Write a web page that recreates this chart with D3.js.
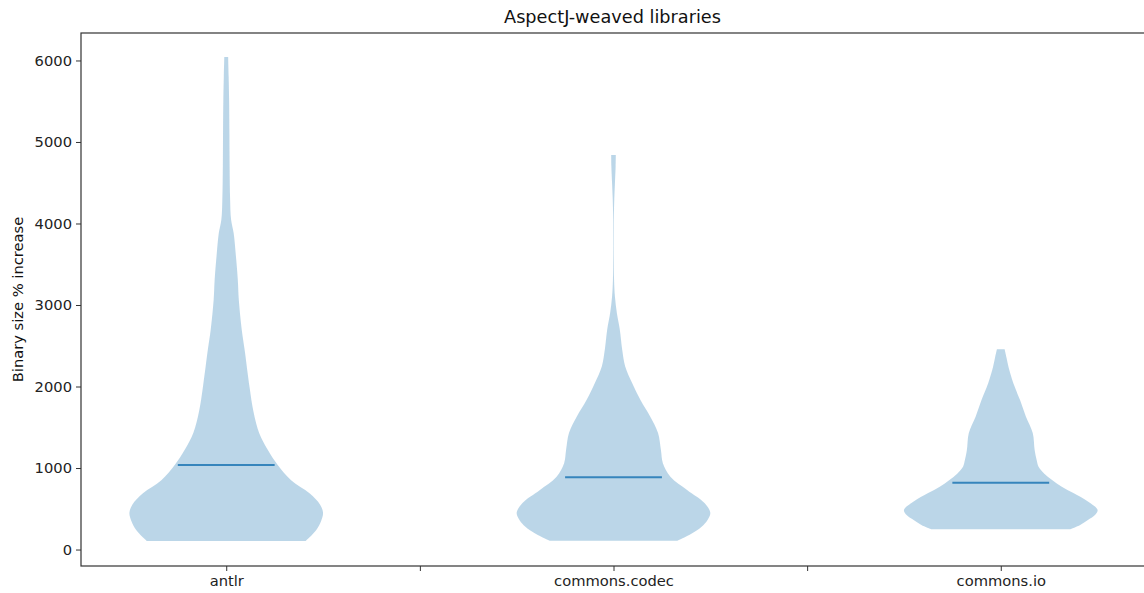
<!DOCTYPE html>
<html>
<head>
<meta charset="utf-8">
<script src="https://cdn.jsdelivr.net/npm/d3@7"></script>
<style>
  html, body { margin: 0; padding: 0; background: #fff; }
  svg { display: block; font-family: "DejaVu Sans", sans-serif; }
</style>
</head>
<body>
<svg id="chart" width="1144" height="593"></svg>
<script>
// ---- Data ----
const categories = ["antlr", "commons.codec", "commons.io"];
const positions = [1, 2, 3];
const meanValues = [1037, 886, 820];

// Violin outlines: value along y, relative half-width (1 = widest)
const antlrValues = [6043, 5800, 5500, 5100, 4700, 4300, 4050, 3880, 3600, 3300, 3060, 2700, 2450, 2000, 1700, 1430, 1220, 1040, 850, 690, 550, 450, 350, 240, 104];
const antlrWidths = [0.02, 0.025, 0.03, 0.033, 0.035, 0.04, 0.05, 0.077, 0.10, 0.12, 0.13, 0.16, 0.19, 0.24, 0.28, 0.34, 0.43, 0.53, 0.67, 0.86, 0.97, 1.0, 0.98, 0.93, 0.82];

const codecValues = [4840, 4700, 4500, 4300, 4100, 3900, 3600, 3300, 3100, 2900, 2700, 2450, 2250, 2050, 1830, 1630, 1430, 1220, 1060, 890, 730, 570, 450, 360, 280, 190, 108];
const codecWidths = [0.024, 0.022, 0.015, 0.008, 0.004, 0.003, 0.003, 0.006, 0.015, 0.035, 0.065, 0.09, 0.12, 0.19, 0.28, 0.38, 0.46, 0.49, 0.51, 0.59, 0.76, 0.94, 1.0, 0.97, 0.91, 0.8, 0.66];

const ioValues = [2456, 2350, 2240, 2040, 1830, 1630, 1430, 1220, 1100, 1016, 930, 853, 770, 693, 590, 485, 420, 362, 300, 248];
const ioWidths = [0.04, 0.06, 0.08, 0.13, 0.2, 0.26, 0.33, 0.35, 0.37, 0.39, 0.45, 0.53, 0.63, 0.75, 0.9, 1.0, 0.97, 0.9, 0.82, 0.72];

const yTicks = [0, 1000, 2000, 3000, 4000, 5000, 6000];
const xTicks = [1, 1.5, 2, 2.5, 3];
const titleText = "AspectJ-weaved libraries";
const yLabelText = "Binary size % increase";

// ---- Layout ----
const svg = d3.select("#chart");
const plotLeft = 81, plotRight = 1146, plotTop = 33, plotBottom = 566;
const violinHalf = 0.25; // half of violin width in data units
const meanHalf = 0.125;

const x = d3.scaleLinear().domain([0.625, 3.375]).range([plotLeft, plotRight]);
const y = d3.scaleLinear().domain([-202, 6337]).range([plotBottom, plotTop]);
const wScale = d3.scaleLinear().domain([0, 1]).range([0, violinHalf]);

const fillColor = "#1f77b4";

const violins = [
  { pos: positions[0], values: antlrValues, widths: antlrWidths, mean: meanValues[0] },
  { pos: positions[1], values: codecValues, widths: codecWidths, mean: meanValues[1] },
  { pos: positions[2], values: ioValues, widths: ioWidths, mean: meanValues[2] }
];

svg.append("defs").append("clipPath").attr("id", "plotclip")
  .append("rect").attr("x", plotLeft).attr("y", plotTop)
  .attr("width", plotRight - plotLeft).attr("height", plotBottom - plotTop);

const plot = svg.append("g").attr("clip-path", "url(#plotclip)");

violins.forEach(v => {
  const pts = v.values.map((val, i) => ({ v: val, w: v.widths[i] }));
  const area = d3.area()
    .y(d => y(d.v))
    .x0(d => x(v.pos - wScale(d.w)))
    .x1(d => x(v.pos + wScale(d.w)))
    .curve(d3.curveCatmullRom.alpha(0.5));
  plot.append("path")
    .datum(pts)
    .attr("d", area)
    .attr("fill", fillColor)
    .attr("fill-opacity", 0.3)
    .attr("stroke", "none");
});

violins.forEach(v => {
  plot.append("line")
    .attr("x1", x(v.pos - meanHalf))
    .attr("x2", x(v.pos + meanHalf))
    .attr("y1", y(v.mean))
    .attr("y2", y(v.mean))
    .attr("stroke", fillColor)
    .attr("stroke-opacity", 0.85)
    .attr("stroke-width", 2);
});

// ---- Axes ----
const axisColor = "#333";
const tickFont = "14.7px";
const yAxis = d3.axisLeft(y).tickValues(yTicks).tickSize(5).tickPadding(4).tickFormat(d3.format("d"));
const gy = svg.append("g").attr("transform", `translate(${plotLeft},0)`).call(yAxis);
gy.select(".domain").remove();
gy.selectAll(".tick line").attr("stroke", axisColor).attr("stroke-width", 1);
gy.selectAll(".tick text").attr("fill", "#222").style("font-size", tickFont).style("font-family", "DejaVu Sans");

const xAxis = d3.axisBottom(x).tickValues(xTicks).tickSize(5).tickPadding(5)
  .tickFormat(d => {
    const i = positions.indexOf(d);
    return i >= 0 ? categories[i] : "";
  });
const gx = svg.append("g").attr("transform", `translate(0,${plotBottom})`).call(xAxis);
gx.select(".domain").remove();
gx.selectAll(".tick line").attr("stroke", axisColor).attr("stroke-width", 1);
gx.selectAll(".tick text").attr("fill", "#222").style("font-size", tickFont).style("font-family", "DejaVu Sans");

// spines
svg.append("rect")
  .attr("x", plotLeft).attr("y", plotTop)
  .attr("width", plotRight - plotLeft).attr("height", plotBottom - plotTop)
  .attr("fill", "none").attr("stroke", axisColor).attr("stroke-width", 1.2);

// title
svg.append("text")
  .attr("x", 612.5)
  .attr("y", 23)
  .attr("text-anchor", "middle")
  .attr("fill", "#111")
  .style("font-size", "17.7px")
  .text(titleText);

// y label
svg.append("text")
  .attr("transform", `translate(23,${(plotTop + plotBottom) / 2}) rotate(-90)`)
  .attr("text-anchor", "middle")
  .attr("fill", "#111")
  .style("font-size", tickFont)
  .text(yLabelText);
</script>
</body>
</html>
